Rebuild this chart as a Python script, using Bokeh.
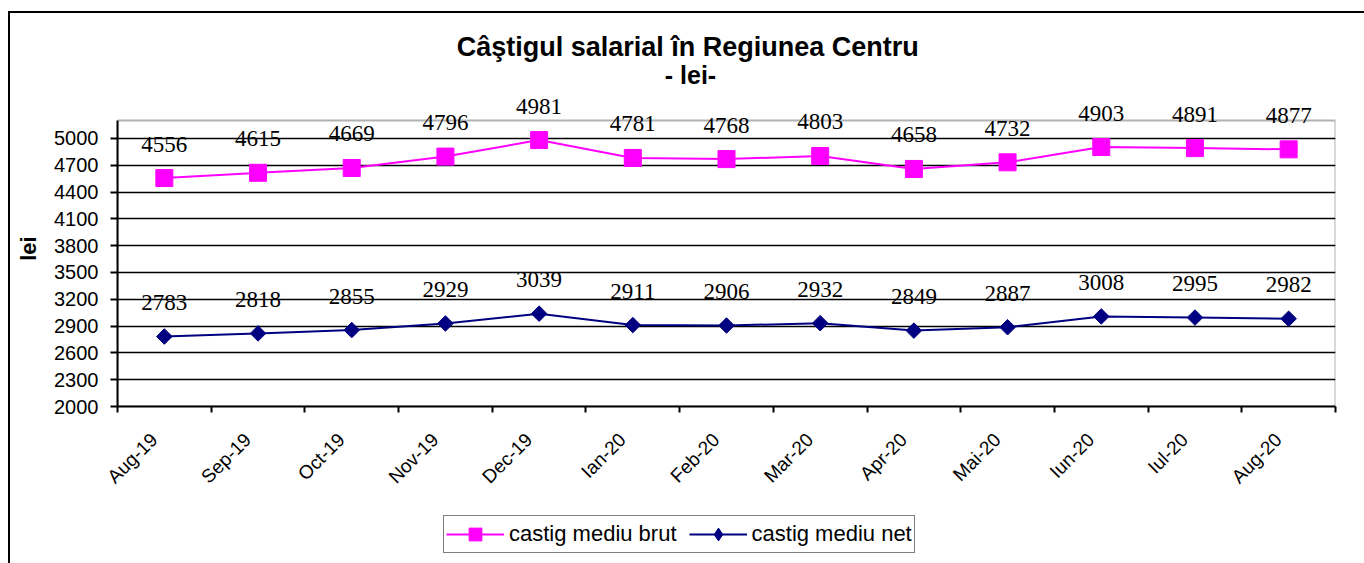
import math
from bokeh.plotting import figure
from bokeh.layouts import column
from bokeh.models import (ColumnDataSource, FixedTicker, LabelSet, Label, Legend,
                          LegendItem, Range1d, BoxAnnotation)
from bokeh.embed import file_html
from bokeh.resources import INLINE

months = ["Aug-19", "Sep-19", "Oct-19", "Nov-19", "Dec-19", "Ian-20", "Feb-20",
          "Mar-20", "Apr-20", "Mai-20", "Iun-20", "Iul-20", "Aug-20"]
brut = [4556, 4615, 4669, 4796, 4981, 4781, 4768, 4803, 4658, 4732, 4903, 4891, 4877]
net = [2783, 2818, 2855, 2929, 3039, 2911, 2906, 2932, 2849, 2887, 3008, 2995, 2982]
y_ticks = [2000, 2300, 2600, 2900, 3200, 3500, 3800, 4100, 4400, 4700, 5000]
y_min, y_max = 2000, 5200

title_text = "Câştigul salarial  în Regiunea Centru"
subtitle_text = "- lei-"
y_label = "lei"
brut_label = "castig mediu brut"
net_label = "castig mediu net"

W = 1354
plot_h = 286           # height of the plotting box (y_min..y_max), px
head_room = 30         # space above the box kept for data labels, px
y_top = y_max + head_room * (y_max - y_min) / plot_h
label_shift = 0.11     # rotated month labels sit slightly left of the category centre

xs = list(range(len(months)))
src = ColumnDataSource(dict(x=xs, brut=brut, net=net,
                            brut_t=[str(v) for v in brut],
                            net_t=[str(v) for v in net]))

def bare(h):
    f = figure(width=W, height=h, output_backend="svg", toolbar_location=None,
               x_axis_type=None, y_axis_type=None, min_border=0,
               x_range=Range1d(-100, -99), y_range=Range1d(-100, -99))
    f.outline_line_color = None
    f.grid.grid_line_color = None
    f.background_fill_color = "white"
    f.border_fill_color = "white"
    return f

# ---------- header with titles ----------
head = bare(77)
head.add_layout(Label(x=574, y=44, x_units="screen", y_units="screen", text=title_text,
                      text_align="center", text_baseline="middle",
                      text_font="Liberation Sans", text_font_style="bold",
                      text_font_size="27px", text_color="black"))
head.add_layout(Label(x=573, y=16, x_units="screen", y_units="screen", text=subtitle_text,
                      text_align="center", text_baseline="middle",
                      text_font="Liberation Sans", text_font_style="bold",
                      text_font_size="25px", text_color="black"))

# ---------- main chart ----------
p = figure(width=W, height=415, output_backend="svg", toolbar_location=None,
           x_range=Range1d(-0.5, len(months) - 0.5), y_range=Range1d(y_min, y_top),
           min_border_left=107, min_border_right=29, min_border_top=0,
           min_border_bottom=99)
p.background_fill_color = "white"
p.border_fill_color = "white"
p.outline_line_color = None

p.xgrid.grid_line_color = None
p.ygrid.grid_line_color = "black"
p.ygrid.grid_line_width = 1.6
p.ygrid.ticker = FixedTicker(ticks=y_ticks)

p.add_layout(BoxAnnotation(left=-0.5, right=len(months) - 0.5, bottom=y_min, top=y_max,
                           fill_alpha=0, line_color="black", line_width=2))

p.yaxis.ticker = FixedTicker(ticks=y_ticks)
p.yaxis.bounds = (y_min, y_max)
p.yaxis.axis_line_color = "black"
p.yaxis.axis_line_width = 2
p.yaxis.major_tick_line_color = "black"
p.yaxis.major_tick_line_width = 2
p.yaxis.major_tick_in = 0
p.yaxis.major_tick_out = 7
p.yaxis.minor_tick_line_color = None
p.yaxis.major_label_text_font = "Liberation Sans"
p.yaxis.major_label_text_font_size = "20px"
p.yaxis.major_label_text_color = "black"
p.yaxis.major_label_standoff = 12
p.yaxis.axis_label = y_label
p.yaxis.axis_label_text_font = "Liberation Sans"
p.yaxis.axis_label_text_font_style = "bold"
p.yaxis.axis_label_text_font_size = "22px"
p.yaxis.axis_label_text_color = "black"
p.yaxis.axis_label_standoff = 10

label_ticks = [i - label_shift for i in xs]
p.xaxis.ticker = FixedTicker(ticks=label_ticks,
                             minor_ticks=[i - 0.5 for i in range(len(months) + 1)])
p.xaxis.major_label_overrides = {t: m for t, m in zip(label_ticks, months)}
p.xaxis.axis_line_color = "black"
p.xaxis.axis_line_width = 2
p.xaxis.major_tick_line_color = None
p.xaxis.minor_tick_line_color = "black"
p.xaxis.minor_tick_line_width = 2
p.xaxis.minor_tick_in = 0
p.xaxis.minor_tick_out = 6
p.xaxis.major_label_orientation = math.pi / 4
p.xaxis.major_label_text_font = "Liberation Sans"
p.xaxis.major_label_text_font_size = "19px"
p.xaxis.major_label_text_color = "black"
p.xaxis.major_label_standoff = 24

bl = p.line("x", "brut", source=src, line_color="#FF00FF", line_width=2)
bm = p.scatter("x", "brut", source=src, marker="square", size=17,
               fill_color="#FF00FF", line_color="#FF00FF")
nl = p.line("x", "net", source=src, line_color="#000080", line_width=2)
nm = p.scatter("x", "net", source=src, marker="square", angle=math.pi / 4, size=11,
               fill_color="#000080", line_color="#000080")

for col, tcol in (("brut", "brut_t"), ("net", "net_t")):
    p.add_layout(LabelSet(x="x", y=col, text=tcol, source=src, y_offset=34,
                          text_align="center", text_baseline="middle",
                          text_font="Liberation Serif", text_font_size="23px",
                          text_color="black"))

# ---------- footer with legend ----------
foot = bare(58)
lb = foot.line("x", "brut", source=src, line_color="#FF00FF", line_width=2)
mb = foot.scatter("x", "brut", source=src, marker="square",
                  fill_color="#FF00FF", line_color="#FF00FF")
ln = foot.line("x", "net", source=src, line_color="#000080", line_width=2)
mn = foot.scatter("x", "net", source=src, marker="diamond",
                  fill_color="#000080", line_color="#000080")
legend = Legend(items=[LegendItem(label=brut_label, renderers=[lb, mb]),
                       LegendItem(label=net_label, renderers=[ln, mn])],
                orientation="horizontal", location=(326, 10),
                glyph_width=58, glyph_height=32, label_standoff=5, spacing=12,
                padding=2, margin=0,
                label_text_font="Liberation Sans", label_text_font_size="22px",
                label_text_color="black",
                border_line_color="black", border_line_width=1.5,
                background_fill_color="white", background_fill_alpha=1)
foot.add_layout(legend, "center")

page = column(head, p, foot, spacing=0)
page.styles = {"margin-top": "11px", "margin-left": "8px",
               "border-top": "2px solid black", "border-left": "2px solid black"}

open("out.html", "w").write(file_html(page, INLINE))
